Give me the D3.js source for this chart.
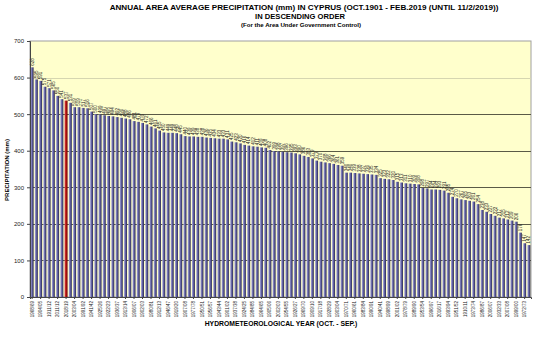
<!DOCTYPE html>
<html>

<head>
  <meta charset='utf-8'>
  <script type="text/javascript" src="https://cdn.jsdelivr.net/npm/d3@7/dist/d3.min.js"></script>
  <style>
    body { margin: 0; background: #fff; }
    text { font-family: "Liberation Sans", Arial, sans-serif; }
  </style>
</head>

<body>
</body>
<script>
  // years in descending order of rainfall (only every 2nd one gets a label)
  let years = [
    "1968/69", "1908/09", "1904/05", "1967/68", "1911/12", "1987/88", "2011/12", "1944/45", "2018/19", "2012/13",
    "2003/04", "1929/30", "1991/92", "1938/39", "1941/42", "1920/21", "1925/26", "1965/66", "1922/23", "1974/75",
    "1936/37", "1947/48", "1913/14", "1994/95", "1906/07", "1914/15", "1902/03", "1982/83", "1980/81", "1931/32",
    "1912/13", "1955/56", "1946/47", "1916/17", "1919/20", "2000/01", "1907/08", "1934/35", "1977/78", "1949/50",
    "1950/51", "1921/22", "1956/57", "1975/76", "1943/44", "1962/63", "1901/02", "1988/89", "1937/38", "1923/24",
    "1924/25", "1952/53", "1984/85", "1939/40", "1964/65", "2004/05", "1905/06", "1927/28", "2002/03", "1976/77",
    "1954/55", "1945/46", "1926/27", "1930/31", "1969/70", "2017/18", "1909/10", "1918/19", "1917/18", "1981/82",
    "1928/29", "1963/64", "1903/04", "1948/49", "1970/71", "1915/16", "1960/61", "1985/86", "1983/84", "2009/10",
    "1990/91", "1935/36", "1940/41", "1966/67", "1998/99", "1979/80", "2001/02", "1942/43", "1978/79", "2010/11",
    "1989/90", "1957/58", "1953/54", "1933/34", "1996/97", "2005/06", "2016/17", "1992/93", "1993/94", "2015/16",
    "1951/52", "1971/72", "1910/11", "1997/98", "1973/74", "1961/62", "1986/87", "2013/14", "2006/07", "1995/96",
    "1932/33", "2014/15", "2007/08", "1958/59", "1999/00", "1959/60", "1972/73", "2008/09"
  ]
  let precip = [
    628, 595, 591, 575, 571, 565, 550, 541, 537, 531,
    519, 519, 517, 516, 507, 500, 499, 497, 495, 494,
    492, 490, 488, 486, 481, 479, 476, 472, 466, 461,
    455, 450, 449, 449, 448, 445, 440, 439, 439, 438,
    438, 436, 435, 434, 433, 433, 431, 425, 423, 420,
    416, 414, 412, 411, 409, 408, 402, 399, 398, 397,
    396, 395, 393, 390, 386, 383, 379, 373, 370, 368,
    366, 364, 361, 359, 340, 340, 339, 338, 337, 336,
    335, 334, 325, 323, 322, 320, 315, 313, 311, 310,
    309, 308, 298, 297, 294, 294, 293, 291, 285, 274,
    270, 267, 265, 263, 261, 254, 238, 233, 227, 222,
    217, 215, 212, 209, 206, 176, 147, 142
  ]
  let currentYear = "2018/19"
  let yTicks = [0, 100, 200, 300, 400, 500, 600, 700]

  let dataset = years.map((y, i) => ({ year: y, value: precip[i] }))

  let w = 546
  let h = 353
  let pLeft = 30, pRight = 531, pTop = 41, pBottom = 297

  let svg = d3.select('body')
    .append('svg')
    .attr('width', w)
    .attr('height', h)

  let xScale = d3.scaleBand()
    .domain(years)
    .range([pLeft, pRight])
    .paddingInner(0.3)
    .paddingOuter(0.15)

  let yScale = d3.scaleLinear()
    .domain([0, 700])
    .range([pBottom, pTop])

  let defs = svg.append('defs')
  let g1 = defs.append('linearGradient').attr('id', 'barGrad')
    .attr('x1', 0).attr('x2', 1).attr('y1', 0).attr('y2', 0)
  g1.append('stop').attr('offset', 0).attr('stop-color', '#b0b0e0')
  g1.append('stop').attr('offset', 0.5).attr('stop-color', '#5e5ea0')
  g1.append('stop').attr('offset', 1).attr('stop-color', '#2c2c50')
  let g2 = defs.append('linearGradient').attr('id', 'redGrad')
    .attr('x1', 0).attr('x2', 1).attr('y1', 0).attr('y2', 0)
  g2.append('stop').attr('offset', 0).attr('stop-color', '#e05050')
  g2.append('stop').attr('offset', 0.5).attr('stop-color', '#b01010')
  g2.append('stop').attr('offset', 1).attr('stop-color', '#700000')

  // plot area
  svg.append('rect')
    .attr('x', pLeft)
    .attr('y', pTop)
    .attr('width', pRight - pLeft)
    .attr('height', pBottom - pTop)
    .attr('fill', '#ffffcc')
    .attr('stroke', '#a0a0a0')
    .attr('stroke-width', 1)

  // grid
  svg.append('g')
    .selectAll('line')
    .data(yTicks.filter(d => d > 0 && d < 700))
    .enter()
    .append('line')
    .attr('x1', pLeft)
    .attr('x2', pRight)
    .attr('y1', d => Math.round(yScale(d)) + 0.5)
    .attr('y2', d => Math.round(yScale(d)) + 0.5)
    .attr('stroke', d => d == 600 ? '#d6d6b0' : '#5a5a46')
    .attr('stroke-width', 1)

  svg.selectAll('rect.bar')
    .data(dataset)
    .enter()
    .append('rect')
    .attr('class', 'bar')
    .attr('x', d => xScale(d.year))
    .attr('y', d => yScale(d.value))
    .attr('width', xScale.bandwidth())
    .attr('height', d => pBottom - yScale(d.value))
    .attr('fill', d => d.year == currentYear ? 'url(#redGrad)' : 'url(#barGrad)')

  // value labels
  svg.selectAll('text.val')
    .data(dataset)
    .enter()
    .append('text')
    .attr('class', 'val')
    .attr('transform', d => 'translate(' + (xScale(d.year) + xScale.bandwidth() / 2 + 1.6) + ',' + (yScale(d.value) - 1.5) + ') rotate(-90)')
    .attr('font-size', '4.5px')
    .attr('fill', '#222')
    .text(d => d.value)

  //axis
  let yAxis = d3.axisLeft(yScale)
    .tickValues(yTicks)
    .tickSize(3)
    .tickPadding(3)
  let ya = svg.append('g')
    .attr('transform', 'translate(' + pLeft + ',0)')
    .call(yAxis)
  ya.selectAll('text').attr('font-size', '6px').attr('fill', '#222')
  ya.selectAll('line, path').attr('stroke', '#444')

  let xAxis = d3.axisBottom(xScale)
    .tickValues(years.filter((d, i) => i % 2 == 0))
    .tickSize(2)
    .tickPadding(2)
  let xa = svg.append('g')
    .attr('transform', 'translate(0,' + pBottom + ')')
    .call(xAxis)
  xa.selectAll('line, path').attr('stroke', '#444')
  xa.selectAll('text')
    .attr('font-size', '4.5px')
    .attr('fill', '#222')
    .attr('text-anchor', 'end')
    .attr('dy', '0.35em')
    .attr('transform', 'translate(0,4) rotate(-90)')
    .attr('x', 0)
    .attr('y', 0)

  // titles
  svg.append('text')
    .attr('x', 304).attr('y', 10)
    .attr('text-anchor', 'middle')
    .attr('font-size', '8.1px').attr('font-weight', 'bold')
    .text('ANNUAL AREA AVERAGE PRECIPITATION (mm) IN CYPRUS (OCT.1901 - FEB.2019 (UNTIL 11/2/2019))')
  svg.append('text')
    .attr('x', 300).attr('y', 19)
    .attr('text-anchor', 'middle')
    .attr('font-size', '7.6px').attr('font-weight', 'bold')
    .text('IN DESCENDING ORDER')
  svg.append('text')
    .attr('x', 301).attr('y', 27)
    .attr('text-anchor', 'middle')
    .attr('font-size', '6.1px').attr('font-weight', 'bold')
    .text('(For the Area Under Government Control)')

  svg.append('text')
    .attr('x', 281).attr('y', 326)
    .attr('text-anchor', 'middle')
    .attr('font-size', '6.8px').attr('font-weight', 'bold')
    .text('HYDROMETEOROLOGICAL YEAR (OCT. - SEP.)')

  svg.append('text')
    .attr('transform', 'translate(9,170) rotate(-90)')
    .attr('text-anchor', 'middle')
    .attr('font-size', '6px').attr('font-weight', 'bold')
    .text('PRECIPITATION (mm)')
</script>

</html>
